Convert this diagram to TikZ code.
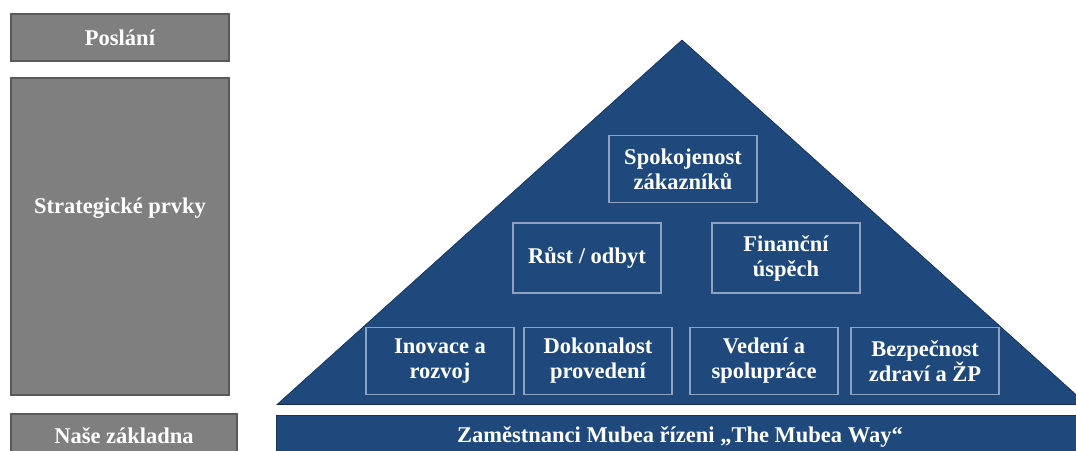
\documentclass[tikz,border=0pt]{standalone}
\usepackage{fontspec}
\setmainfont{Liberation Serif}
\definecolor{mblue}{HTML}{1F497D}
\definecolor{mgray}{HTML}{7F7F7F}
\definecolor{mgrayb}{HTML}{5A5A5A}
\definecolor{mline}{HTML}{8FA3C0}
\newcommand{\dfont}{\bfseries\fontsize{22.5}{25}\selectfont}
\tikzset{
  graybox/.style={fill=mgray, draw=mgrayb, line width=1.2pt, text=white, font=\dfont, inner sep=0pt},
  pillar/.style={draw=mline, line width=1.4pt, text=white, align=center, minimum width=148pt, minimum height=67pt, inner sep=0pt, font=\dfont},
  basebar/.style={fill=mblue, draw=mblue!70!black, line width=0.6pt, text=white, inner sep=0pt, font=\dfont},
  label/.style={text=white, font=\dfont, inner sep=0pt}
}
\begin{document}
\begin{tikzpicture}[x=1pt,y=-1pt]
\useasboundingbox (0,0) rectangle (1076,450);
\clip (0,0) rectangle (1076,450);
% left column
\node[graybox, minimum width=218pt, minimum height=47pt] (poslani) at (120,37.5) {};
\node[label] (poslanit) at (120,37.5) {Poslání};
\node[graybox, minimum width=218pt, minimum height=317pt] (strat) at (120,236.5) {};
\node[label] (stratt) at (120,208) {Strategické prvky};
\node[graybox, minimum width=226pt, minimum height=50pt] (zaklad) at (124,439) {};
\node[label] (zakladt) at (124,436) {Naše základna};
% roof
\filldraw[fill=mblue, draw=mblue!60!black, line width=0.6pt] (277,404.5) -- (682,40) -- (1087,404.5) -- cycle;
% base bar
\node[basebar, minimum width=810pt, minimum height=50pt] (base) at (681,440) {};
\node[label] (baset) at (680,437) {Zaměstnanci Mubea řízeni „The Mubea Way“};
% pillars
\node[pillar] (spok) at (683,169) {Spokojenost\\zákazníků};
\node[pillar, minimum height=70pt] (rust) at (587,258) {Růst / odbyt};
\node[pillar, minimum height=70pt] (fin) at (786,258) {Finanční\\úspěch};
\node[pillar] (inov) at (440,361) {Inovace a\\rozvoj};
\node[pillar] (dok) at (598,361) {Dokonalost\\provedení};
\node[pillar] (ved) at (764,361) {Vedení a\\spolupráce};
\node[pillar] (bez) at (925,361) {Bezpečnost\\zdraví a ŽP};
\end{tikzpicture}
\end{document}
